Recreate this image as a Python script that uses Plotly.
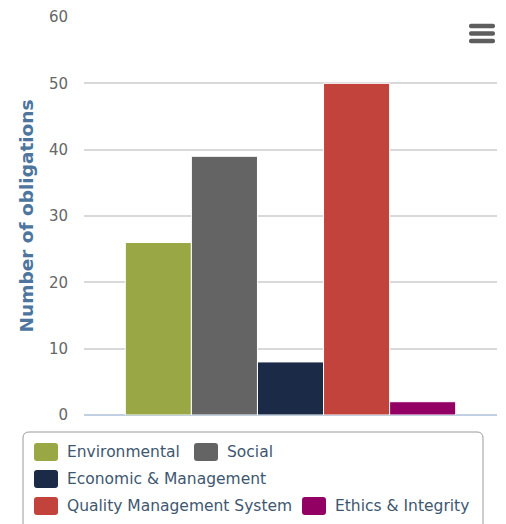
import plotly.graph_objects as go

# Obligations per category
categories = [
    "Environmental",
    "Social",
    "Economic & Management",
    "Quality Management System",
    "Ethics & Integrity",
]
obligations = [26, 39, 8, 50, 2]
colors = ["#99A845", "#646464", "#1B2A47", "#C2433B", "#930064"]
y_ticks = [0, 10, 20, 30, 40, 50, 60]

FONT = "DejaVu Sans"
W, H = 506, 524
L, R, T, B = 84, 9, 17, 109
PW = W - L - R
PH = H - T - B


def px(x):
    """Pixel x -> paper x."""
    return (x - L) / PW


def py(y):
    """Pixel y (from top) -> paper y."""
    return (H - B - y) / PH


def rounded_rect(x0, y0, x1, y1, r):
    """Rounded rectangle path in paper units, corners given in pixels."""
    pts = [
        f"M {px(x0 + r)},{py(y0)}",
        f"L {px(x1 - r)},{py(y0)}",
        f"Q {px(x1)},{py(y0)} {px(x1)},{py(y0 + r)}",
        f"L {px(x1)},{py(y1 - r)}",
        f"Q {px(x1)},{py(y1)} {px(x1 - r)},{py(y1)}",
        f"L {px(x0 + r)},{py(y1)}",
        f"Q {px(x0)},{py(y1)} {px(x0)},{py(y1 - r)}",
        f"L {px(x0)},{py(y0 + r)}",
        f"Q {px(x0)},{py(y0)} {px(x0 + r)},{py(y0)}",
        "Z",
    ]
    return " ".join(pts)


fig = go.Figure()
for name, val, col in zip(categories, obligations, colors):
    fig.add_bar(
        x=[""],
        y=[val],
        name=name,
        marker=dict(color=col, line=dict(color="white", width=1)),
        showlegend=False,
    )

shapes = []
annotations = []

# Legend frame (runs past the bottom edge)
shapes.append(dict(
    type="path", xref="paper", yref="paper",
    path=rounded_rect(23, 432, 483, 540, 6),
    line=dict(color="#9A9A9A", width=1), fillcolor="rgba(0,0,0,0)", layer="above",
))

# Legend entries: (left of swatch, vertical centre) per category
legend_slots = [(34, 452), (194, 452), (34, 479), (34, 506), (302, 506)]
for (lx, ly), name, col in zip(legend_slots, categories, colors):
    shapes.append(dict(
        type="path", xref="paper", yref="paper",
        path=rounded_rect(lx, ly - 9, lx + 24, ly + 9, 3),
        line=dict(width=0), fillcolor=col, layer="above",
    ))
    annotations.append(dict(
        x=px(lx + 31), y=py(ly), xref="paper", yref="paper",
        xanchor="left", yanchor="middle", showarrow=False,
        text=name, font=dict(family=FONT, size=15.5, color="#3E576F"),
    ))

# Export menu icon
for cy in (26, 33.5, 41):
    shapes.append(dict(
        type="path", xref="paper", yref="paper",
        path=rounded_rect(469, cy - 2.2, 495, cy + 2.2, 2),
        line=dict(width=0), fillcolor="#5E5E5E", layer="above",
    ))

fig.update_layout(
    width=W, height=H,
    margin=dict(l=L, r=R, t=T, b=B, pad=0),
    paper_bgcolor="white", plot_bgcolor="white",
    barmode="group", bargap=0.2, bargroupgap=0,
    showlegend=False,
    font=dict(family=FONT, color="#666666"),
    xaxis=dict(
        showticklabels=False, showgrid=False, zeroline=False,
        showline=False, ticks="", fixedrange=True,
    ),
    yaxis=dict(
        range=[0, 60], tickvals=y_ticks, ticktext=[str(v) for v in y_ticks],
        showgrid=True, gridcolor="#D9D9D9", gridwidth=1.5,
        zeroline=True, zerolinecolor="#C0D0E0", zerolinewidth=1.5,
        showline=False, ticks="outside", ticklen=12, tickcolor="rgba(0,0,0,0)",
        tickfont=dict(family=FONT, size=15, color="#666666"),
        title=dict(
            text="<b>Number of obligations</b>",
            font=dict(family=FONT, size=18.5, color="#4D759E"),
            standoff=10,
        ),
        fixedrange=True,
    ),
    shapes=shapes,
    annotations=annotations,
)

fig.write_html("out.html", config={"displayModeBar": False})
